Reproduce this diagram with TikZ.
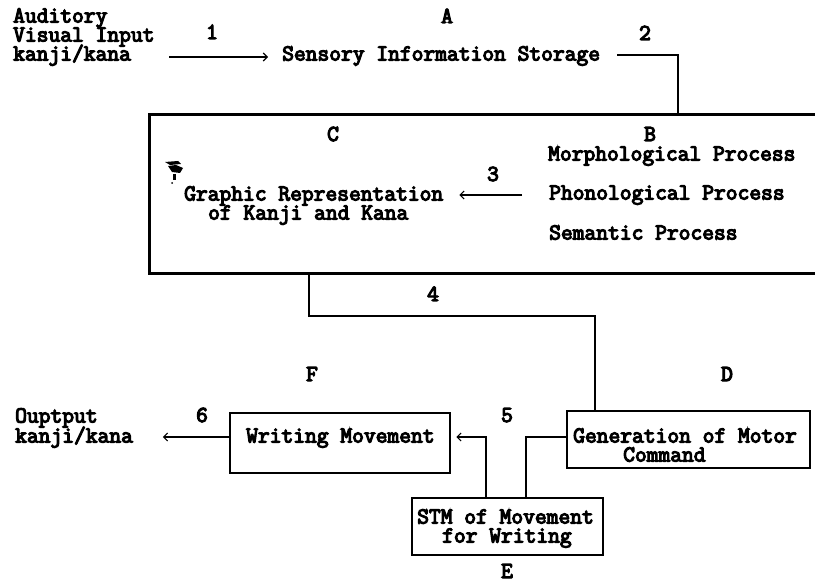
\documentclass[tikz,border=0pt]{standalone}
\usepackage{fontspec}
\newfontfamily\labfont[FakeBold=5]{Latin Modern Mono}
\usetikzlibrary{arrows.meta,calc}
\begin{document}
\begin{tikzpicture}[x=1pt,y=-1pt,
  txt/.style={font=\labfont\fontsize{22.86}{19}\selectfont, inner sep=0pt, anchor=base west, text height=11pt, text depth=2pt},
  lab/.style={font=\labfont\fontsize{22.86}{19}\selectfont, inner sep=0pt, anchor=base, text height=11pt, text depth=0pt},
  boxn/.style={draw, line width=2.5pt, inner sep=0pt, rectangle},
  conn/.style={line width=2pt},
  tip/.style={-{Straight Barb[length=4pt,width=8pt,line width=1.1pt]}},
  arrline/.style={line width=2.8pt, tip},
]
\clip (0,0) rectangle (815,583);
\fill[white] (0,0) rectangle (815,583);

% boxes
\node[boxn, line width=3pt, minimum width=690pt, minimum height=159pt] (big) at (494,194.5) {};
\node[boxn, minimum width=220pt, minimum height=60pt] (wm) at (340,443) {};
\node[boxn, minimum width=243pt, minimum height=57pt] (gm) at (688.5,439.5) {};
\node[boxn, minimum width=191pt, minimum height=57pt] (stm) at (507.5,526.5) {};

% texts
\node[txt] (aud) at (13,22.5) {Auditory};
\node[txt] (vis) at (13,41.5) {Visual Input};
\node[txt] (kk1) at (13,60.5) {kanji/kana};
\node[txt] (sis) at (282,60.5) {Sensory Information Storage};
\node[txt] (mor) at (548,160.5) {Morphological Process};
\node[txt] (pho) at (549,199.5) {Phonological Process};
\node[txt] (sem) at (549,239.5) {Semantic Process};
\node[txt] (gr1) at (184,200.5) {Graphic Representation};
\node[txt] (gr2) at (208,219.5) {of Kanji and Kana};
\node[txt] (out) at (15,422.5) {Ouptput};
\node[txt] (kk2) at (15,442.5) {kanji/kana};
\node[txt] (wmt) at (246,442.5) {Writing Movement};
\node[txt] (gm1) at (573,442.5) {Generation of Motor};
\node[txt] (gm2) at (623,461.5) {Command};
\node[txt] (st1) at (417,523.5) {STM of Movement};
\node[txt] (st2) at (442,542.5) {for Writing};

% letters and numbers
\node[lab] (lA) at (447,23) {A};
\node[lab] (lB) at (650,141) {B};
\node[lab] (lC) at (333,141) {C};
\node[lab] (lD) at (727,381) {D};
\node[lab] (lE) at (507,578) {E};
\node[lab] (lF) at (312,381) {F};
\node[lab] (n1) at (212,39) {1};
\node[lab] (n2) at (645,40) {2};
\node[lab] (n3) at (493,181) {3};
\node[lab] (n4) at (433,301) {4};
\node[lab] (n5) at (507,422) {5};
\node[lab] (n6) at (202,422) {6};

% connectors
\draw[arrline] ([xshift=38pt,yshift=3.5pt]kk1.base east) -- ([xshift=-14pt,yshift=3.5pt]sis.base west);
\draw[conn] ([xshift=17pt,yshift=5.5pt]sis.base east) -| ($(big.north west)+(530,0)$);
\draw[arrline] ([xshift=-27pt,yshift=4.5pt]pho.base west) -- ([xshift=16pt,yshift=5.5pt]gr1.base east);
\draw[conn] ($(big.south west)+(161,0)$) -- ++(0,40) -| ($(gm.north west)+(29,0)$);
\coordinate (j5) at ($(wm.east)+(5,-6)$);
\draw[conn, tip] ($(stm.north west)+(75,0)$) |- (j5);
\draw[conn] ($(gm.west)+(0,-2.5)$) -| ($(stm.north west)+(115,0)$);
\draw[arrline] ($(wm.west)+(0,-6)$) -- ($(wm.west)+(-66,-6)$);

% scanning smudge
\fill (165,162) -- (178,161) -- (181,164) -- (170,165) -- cycle;
\fill (168,166) -- (176,165) -- (183,168) -- (180,173) -- (172,172) -- cycle;
\fill (173,174) rectangle (176,180);
\fill (172,183) circle (1);
\end{tikzpicture}
\end{document}
